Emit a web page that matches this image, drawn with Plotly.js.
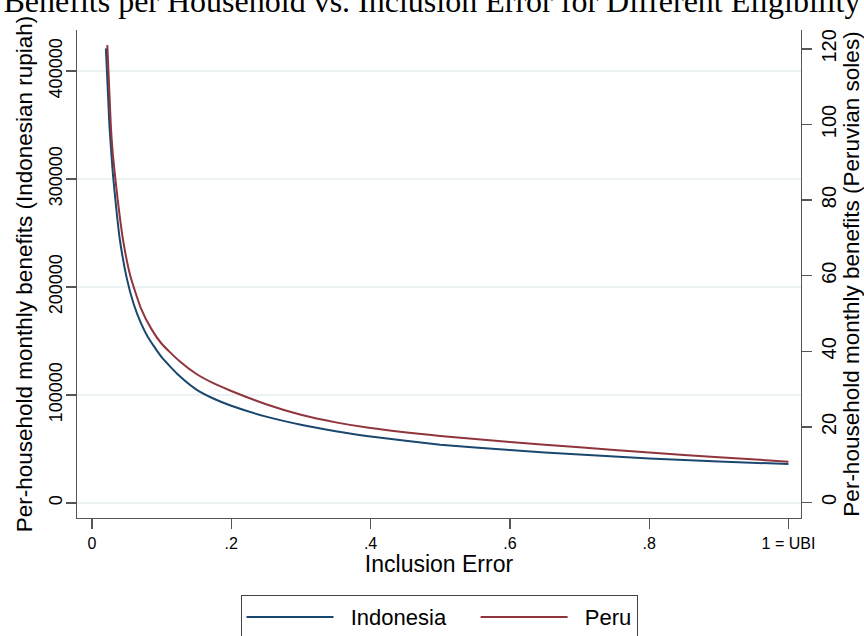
<!DOCTYPE html>
<html>
<head>
<meta charset="utf-8">
<script src="https://cdn.plot.ly/plotly-3.0.1.min.js"></script>
<style>html,body{margin:0;padding:0;background:#fff;}#chart{width:864px;height:636px;}</style>
</head>
<body>
<div id="chart"></div>
<script>
// Inclusion error values (x) and per-household monthly benefits
const indonesiaErr = [0.02, 0.025, 0.03, 0.035, 0.04, 0.05, 0.06, 0.07, 0.08, 0.10, 0.125, 0.15, 0.175, 0.20, 0.25, 0.30, 0.35, 0.40, 0.50, 0.60, 0.70, 0.80, 0.90, 1.00];
const indonesiaRupiah = [421000, 350000, 305000, 272000, 244000, 208000, 184000, 167000, 154000, 135000, 118000, 105000, 96500, 90000, 80000, 72500, 66500, 61500, 54000, 49000, 44800, 41300, 38500, 36000];

const peruErr = [0.022, 0.027, 0.03, 0.037, 0.045, 0.055, 0.07, 0.085, 0.10, 0.125, 0.15, 0.175, 0.20, 0.25, 0.30, 0.35, 0.40, 0.50, 0.60, 0.70, 0.80, 0.90, 1.00];
const peruSoles = [121, 100, 92, 80, 69, 60, 51.5, 46, 42, 37.5, 34, 31.5, 29.5, 26, 23.2, 21.2, 19.7, 17.6, 16, 14.6, 13.2, 12, 10.8];

const seriesNames = ['Indonesia', 'Peru'];
const xTickVals = [0, 0.2, 0.4, 0.6, 0.8, 1];
const xTickText = ['0', '.2', '.4', '.6', '.8', '1 = UBI'];
const leftTickVals = [0, 100000, 200000, 300000, 400000];
const rightTickVals = [0, 20, 40, 60, 80, 100, 120];

const FONT = 'Liberation Sans, Arial, sans-serif';
const AX = '#555555';
const NB = '\u00A0';

const traces = [
  {x: indonesiaErr, y: indonesiaRupiah, name: NB + NB + seriesNames[0] + NB + NB + NB + NB, type: 'scatter', mode: 'lines',
   line: {color: '#1a476f', width: 2, shape: 'spline', smoothing: 0.5}, yaxis: 'y'},
  {x: peruErr, y: peruSoles, name: NB + NB + seriesNames[1], type: 'scatter', mode: 'lines',
   line: {color: '#90353b', width: 2, shape: 'spline', smoothing: 0.5}, yaxis: 'y2'}
];

const layout = {
  width: 864, height: 636,
  paper_bgcolor: '#ffffff', plot_bgcolor: '#ffffff',
  margin: {l: 77, r: 63, t: 30, b: 118, autoexpand: false},
  font: {family: FONT, color: '#000'},
  title: {text: 'Benefits per Household vs. Inclusion Error for Different Eligibility',
          font: {family: 'Liberation Serif, Times New Roman, serif', size: 32, color: '#000'},
          x: 0.5, xanchor: 'center', y: 0.998, yref: 'container', yanchor: 'middle'},
  xaxis: {range: [-0.0215, 1.018], tickvals: xTickVals, ticktext: xTickText,
          showgrid: false, zeroline: false, showline: true, linecolor: AX, linewidth: 1.3,
          ticks: 'outside', ticklen: 10, tickcolor: AX, tickwidth: 1.3,
          tickfont: {size: 16, family: FONT}, ticklabelstandoff: 0,
          title: {text: 'Inclusion Error', font: {size: 23, family: FONT}, standoff: 3}},
  yaxis: {range: [-13900, 438000], tickvals: leftTickVals, ticktext: leftTickVals.map(String),
          tickangle: -90, showgrid: true, gridcolor: '#eaf2f3', gridwidth: 1.5, zeroline: false,
          showline: true, linecolor: AX, linewidth: 1.3,
          ticks: 'outside', ticklen: 10, tickcolor: AX, tickwidth: 1.3,
          tickfont: {size: 18, family: FONT}, ticklabelstandoff: -3,
          title: {text: 'Per-household monthly benefits (Indonesian rupiah)', font: {size: 22.5, family: FONT}, standoff: 6}},
  yaxis2: {range: [-4.1, 125], tickvals: rightTickVals, ticktext: rightTickVals.map(String),
           overlaying: 'y', side: 'right', tickangle: -90, showgrid: false, zeroline: false,
           showline: true, linecolor: AX, linewidth: 1.3,
           ticks: 'outside', ticklen: 10, tickcolor: AX, tickwidth: 1.3,
           tickfont: {size: 20, family: FONT},
           title: {text: 'Per-household monthly benefits (Peruvian soles)', font: {size: 22.5, family: FONT}, standoff: 0}},
  showlegend: true,
  legend: {orientation: 'h', x: 0.5, xanchor: 'center', y: -0.158, yanchor: 'top',
           bordercolor: '#444', borderwidth: 1, bgcolor: '#fff', itemwidth: 87,
           font: {size: 22, family: FONT}}
};

Plotly.newPlot('chart', traces, layout, {displayModeBar: false, staticPlot: true});
</script>
</body>
</html>
